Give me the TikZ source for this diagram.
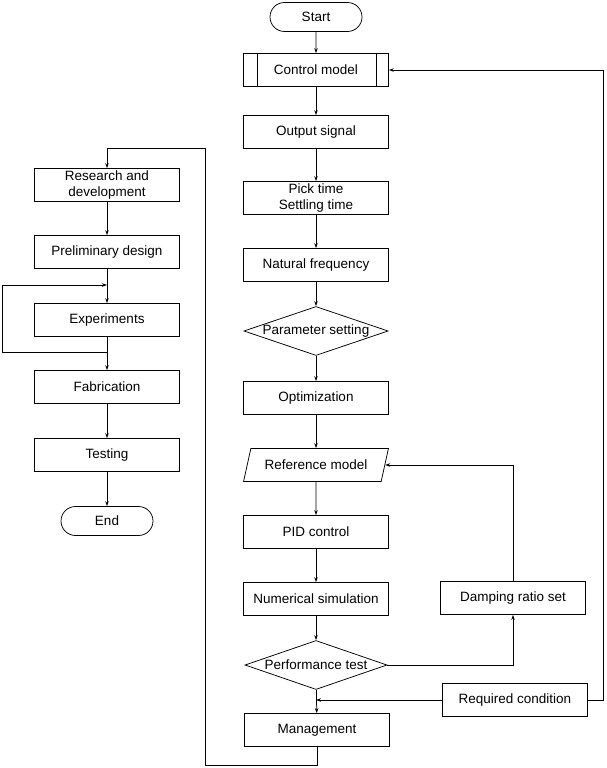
\documentclass[tikz,border=0pt]{standalone}
\usepackage{fontspec}
\setmainfont{Liberation Sans}
\usetikzlibrary{shapes.geometric,shapes.misc,arrows.meta}

\tikzstyle{box}=[draw,rectangle,minimum width=145pt,minimum height=33pt,inner sep=0pt,align=center]
\tikzstyle{term}=[draw,rounded rectangle,minimum width=92pt,minimum height=29pt,inner sep=0pt]
\tikzstyle{decide}=[draw,diamond,aspect=3,inner sep=0pt,minimum width=142pt,minimum height=49pt]
\tikzstyle{inout}=[draw,trapezium,trapezium left angle=60,trapezium right angle=120,trapezium stretches=true,minimum width=145pt,minimum height=33pt,inner sep=0pt]
\tikzstyle{link}=[draw,-{Stealth[length=5pt,width=3.5pt]}]
\tikzstyle{wire}=[draw,-]

\begin{document}
\begin{tikzpicture}[x=1pt, y=-1pt, line width=0.75pt, font=\fontsize{13.5}{15.5}\selectfont]
    \useasboundingbox (0,0) rectangle (606,768);
    % First we draw the blocks
    \foreach \pos/\name/\text in {{(316,17)/start/Start}, {(107,521)/end/End}}
        \node[term] (\name) at \pos {\text};
    \foreach \pos/\name/\text in {{(316,70)/cm/Control model}, {(316,132)/out/Output signal},
        {(316,198)/pick/{Pick time\\Settling time}}, {(316,265)/nat/Natural frequency},
        {(316,398)/opt/Optimization}, {(316,532)/pid/PID control},
        {(316,599)/num/Numerical simulation}, {(317,730)/mgmt/Management},
        {(513,598)/damp/Damping ratio set}, {(515,700)/req/Required condition},
        {(107,185)/rd/{Research and\\development}}, {(107,252)/pre/Preliminary design},
        {(107,320)/exp/Experiments}, {(107,387)/fab/Fabrication}, {(107,455)/tst/Testing}}
        \node[box] (\name) at \pos {\text};
    \foreach \pos/\name/\text in {{(316,331)/par/Parameter setting}, {(316,665)/perf/Performance test}}
        \node[decide] (\name) at \pos {\text};
    \node[inout] (ref) at (316,465) {Reference model};
    % side bars of the control model block
    \draw ([xshift=14pt]cm.north west) -- ([xshift=14pt]cm.south west);
    \draw ([xshift=-13pt]cm.north east) -- ([xshift=-13pt]cm.south east);
    % Connect blocks with arrows
    \foreach \source/\dest in {start/cm,cm/out,out/pick,pick/nat,nat/par,par/opt,opt/ref,ref/pid,
        pid/num,num/perf,perf/mgmt,rd/pre,pre/exp,exp/fab,fab/tst,tst/end}
        \path[link] (\source) -- (\dest);
    % feedback loops
    \coordinate (join) at (316,700);
    \coordinate (ret) at (205,148);
    \coordinate (lpout) at (107,352);
    \coordinate (lpin) at (107,285);
    \path[link] (perf.east) -| (damp.south);
    \path[link] (damp.north) |- (ref.east);
    \path[link] (req.west) -- (join);
    \path[link] (req.east) -- ++(15,0) |- (cm.east);
    \path[link] (mgmt.south) -- ++(0,18) -| (ret) -| (rd.north);
    \path[link] (lpout) -- ++(-105,0) |- (lpin);
\end{tikzpicture}
\end{document}
